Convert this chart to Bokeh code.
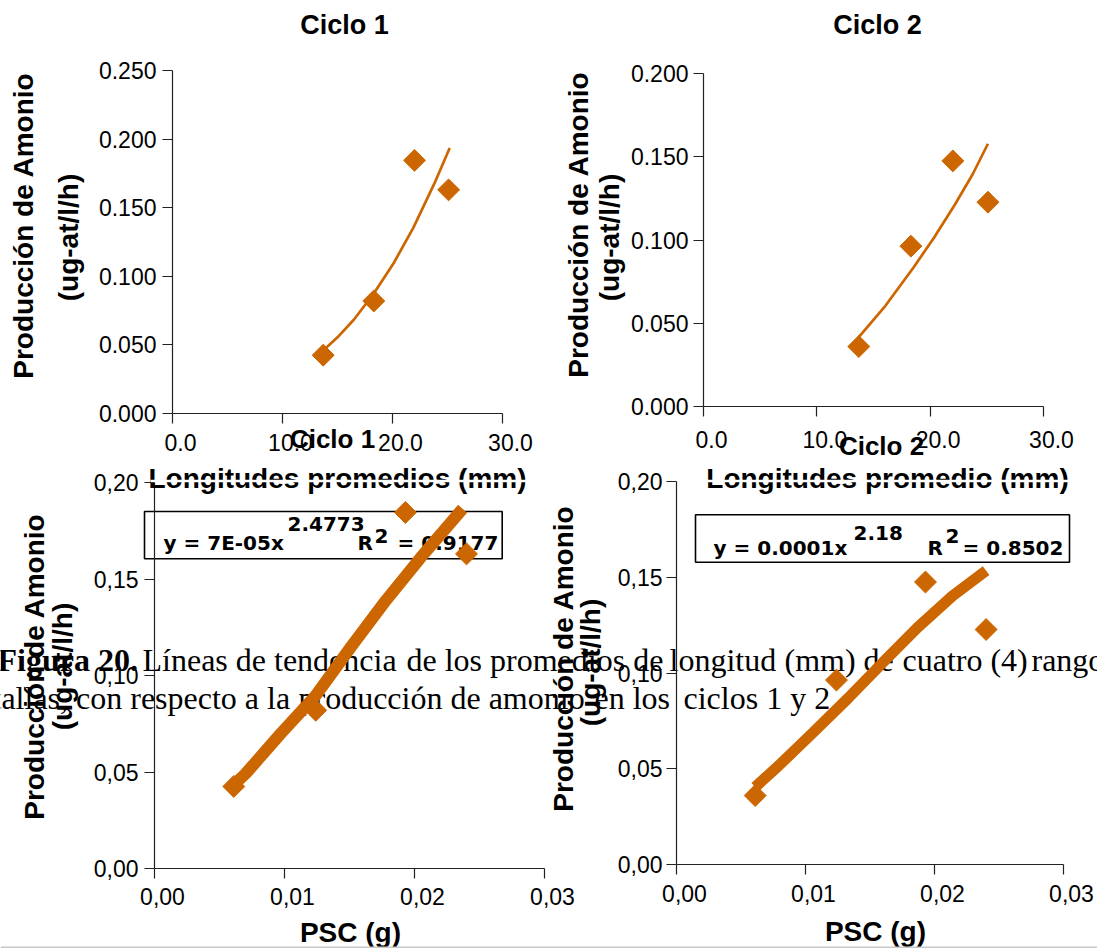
from math import pi
from bokeh.plotting import figure
from bokeh.models import Range1d, FixedTicker, Label, BoxAnnotation, LinearAxis
from bokeh.embed import file_html
from bokeh.resources import INLINE

# ---------------- data ----------------
longitudes = [13.7, 18.3, 22.0, 25.1]            # Longitudes promedio (mm)
psc = [0.0061, 0.0124, 0.0193, 0.0240]           # PSC (g)
amonio_ciclo1 = [0.0425, 0.082, 0.1845, 0.163]   # ug-at/l/h
amonio_ciclo2 = [0.036, 0.0963, 0.1475, 0.1227]

# trend lines, points
tend_long_c1_x = [13.7, 15.0, 16.5, 18.3, 20.1, 21.9, 23.8, 25.2]
tend_long_c1_y = [0.046, 0.0555, 0.0685, 0.0875, 0.1095, 0.1355, 0.1675, 0.1935]
tend_long_c2_x = [13.7, 16.05, 18.5, 20.35, 22.2, 23.75, 25.1]
tend_long_c2_y = [0.0416, 0.0605, 0.0832, 0.1015, 0.1215, 0.1395, 0.1578]
tend_psc_c1_x = [0.0059, 0.0070, 0.0097, 0.0124, 0.0151, 0.0178, 0.0205, 0.0237]
tend_psc_c1_y = [0.0421, 0.0491, 0.0698, 0.0896, 0.1147, 0.1389, 0.1613, 0.1864]
tend_psc_c2_x = [0.0061, 0.0079, 0.0106, 0.0133, 0.0160, 0.0187, 0.0214, 0.0240]
tend_psc_c2_y = [0.0404, 0.0515, 0.0690, 0.0868, 0.1055, 0.1238, 0.1403, 0.1535]

long_ticks = [0, 10, 20, 30]
long_tick_labels = ["0.0", "10.0", "20.0", "30.0"]
amon_ticks_c1 = [0, 0.05, 0.1, 0.15, 0.2, 0.25]
amon_tick_labels_c1 = ["0.000", "0.050", "0.100", "0.150", "0.200", "0.250"]
amon_ticks_c2 = [0, 0.05, 0.1, 0.15, 0.2]
amon_tick_labels_c2 = ["0.000", "0.050", "0.100", "0.150", "0.200"]
psc_ticks = [0, 0.01, 0.02, 0.03]
psc_tick_labels = ["0,00", "0,01", "0,02", "0,03"]
amon_ticks_psc = [0, 0.05, 0.1, 0.15, 0.2]
amon_tick_labels_psc = ["0,00", "0,05", "0,10", "0,15", "0,20"]

titles = ["Ciclo 1", "Ciclo 2", "Ciclo 1", "Ciclo 2"]
y_label_1 = "Producción de Amonio"
y_label_2 = "(ug-at/l/h)"
x_label_tl = "Longitudes promedios (mm)"
x_label_tr = "Longitudes promedio (mm)"
x_label_psc = "PSC (g)"
eq_c1 = ["y = 7E-05x", "2.4773", "R", "2", "= 0.9177"]
eq_c2 = ["y = 0.0001x", "2.18", "R", "2", "= 0.8502"]
caption_1 = ["Figura 20.", "Líneas de tendencia", "de los promedios de",
             "longitud", "(mm) de", "cuatro (4)", "rangos de"]
caption_2 = ["tallas, con respecto a la", "producción de amonio", "en los",
             "ciclos 1 y 2"]

# ---------------- styling ----------------
W, H = 1097, 948
ORANGE = "#CC6600"
SANS = "Liberation Sans"
SERIF = "Liberation Serif"
EQF = "DejaVu Sans"
K = 0.36          # baseline compensation (fraction of font size)
XLAB_SHIFT = 8    # x tick labels sit a little right of their ticks

# one page-sized figure; its default ranges are page pixels (y measured upward)
p = figure(width=W, height=H, output_backend="svg", toolbar_location=None,
           x_range=Range1d(0, W), y_range=Range1d(0, H),
           x_axis_location=None, y_axis_location=None, min_border=0)
p.title.visible = False
p.background_fill_color = "white"
p.border_fill_color = "white"
p.outline_line_color = None
p.xgrid.visible = False
p.ygrid.visible = False

extra_x, extra_y = {}, {}


def style_axis(ax, ticks, labels, so, show_rule=True):
    ax.ticker = FixedTicker(ticks=ticks)
    ax.major_label_overrides = dict(zip(ticks, labels))
    ax.axis_line_color = "#222222" if show_rule else None
    ax.axis_line_width = 1.2
    ax.major_tick_line_color = "#222222" if show_rule else None
    ax.major_tick_line_width = 1.2
    ax.major_tick_out = 10
    ax.major_tick_in = 0
    ax.minor_tick_line_color = None
    ax.major_label_text_font = SANS
    ax.major_label_text_font_size = "23px"
    ax.major_label_text_color = "black"
    ax.major_label_standoff = so


def chart(name, L, R, T, B, xr, yr, xt, xl, yt, yl, xso, yso):
    """A sub-chart: data ranges xr/yr shown in the page box L..R, T..B."""
    x0, x1 = xr
    y0, y1 = yr
    kx = (x1 - x0) / (R - L)
    ky = (y1 - y0) / (B - T)
    extra_x[name] = Range1d(x0 - L * kx, x0 + (W - L) * kx)
    extra_x[name + "_lab"] = Range1d(x0 - (L + XLAB_SHIFT) * kx,
                                     x0 + (W - L - XLAB_SHIFT) * kx)
    extra_y[name] = Range1d(y0 + (B - H) * ky, y0 + B * ky)
    # x axis: rule + ticks, and its labels on a copy shifted slightly right
    xa = LinearAxis(x_range_name=name, y_range_name=name, fixed_location=y0,
                    bounds=(x0, x1))
    style_axis(xa, xt, [""] * len(xt), xso)
    xl_ax = LinearAxis(x_range_name=name + "_lab", y_range_name=name,
                       fixed_location=y0, bounds=(x0, x1))
    style_axis(xl_ax, xt, xl, xso, show_rule=False)
    ya = LinearAxis(x_range_name=name, y_range_name=name, fixed_location=x0,
                    bounds=(y0, y1))
    style_axis(ya, yt, yl, yso)
    p.add_layout(xa, "below")
    p.add_layout(xl_ax, "below")
    p.add_layout(ya, "left")


def text(X, Y, s, size, font=SANS, bold=False, angle=0.0, align="left",
         level="annotation"):
    """(X, Y): baseline point of the text in page pixels."""
    if angle == 0.0:
        x, y = X, H - (Y - K * size)
    else:
        x, y = X - K * size, H - Y
    p.add_layout(Label(x=x, y=y, text=s, text_font=font,
                       text_font_size=f"{size}px",
                       text_font_style="bold" if bold else "normal",
                       angle=angle, text_align=align,
                       text_baseline="alphabetic", text_color="black",
                       level=level))


def box(X0, X1, Y0, Y1, line="black", fill=None, level="underlay"):
    p.add_layout(BoxAnnotation(left=X0, right=X1, top=H - Y0, bottom=H - Y1,
                               fill_color=fill, fill_alpha=1.0,
                               line_color=line, line_alpha=1.0, line_width=1.6,
                               level=level))


def ylabels(b1, c1, b2, c2):
    text(b1, c1, y_label_1, 28, bold=True, angle=pi / 2, align="center")
    text(b2, c2, y_label_2, 28, bold=True, angle=pi / 2, align="center")


def markers(name, xs, ys):
    p.scatter(xs, ys, marker="square", size=15.5, angle=pi / 4,
              fill_color=ORANGE, line_color=ORANGE,
              x_range_name=name, y_range_name=name)


# ---------------- figure caption (underneath everything) ----------------
CAP = 32
cap_y1, cap_y2 = 671.5, 709
for s, X, bold in zip(caption_1, [-3, 142, 406, 669, 784, 902, 1031],
                      [True] + [False] * 6):
    text(X, cap_y1, s, CAP, font=SERIF, bold=bold, level="underlay")
for s, X in zip(caption_2, [-8, 298, 594, 683]):
    text(X, cap_y2, s, CAP, font=SERIF, level="underlay")

# ---------------- top left: Ciclo 1 vs longitud ----------------
chart("tl", 172, 502, 70, 413, (0, 30), (0, 0.25), long_ticks, long_tick_labels,
      amon_ticks_c1, amon_tick_labels_c1, 10, 6)
markers("tl", longitudes, amonio_ciclo1)
p.line(tend_long_c1_x, tend_long_c1_y, line_color=ORANGE, line_width=2.7,
       x_range_name="tl", y_range_name="tl")
text(344, 34, titles[0], 27, bold=True, align="center")
ylabels(33, 225, 78, 237)
text(337, 488, x_label_tl, 28, bold=True, align="center")

# ---------------- top right: Ciclo 2 vs longitud ----------------
chart("tr", 703, 1043, 73, 406, (0, 30), (0, 0.2), long_ticks, long_tick_labels,
      amon_ticks_c2, amon_tick_labels_c2, 14, 5)
markers("tr", longitudes, amonio_ciclo2)
p.line(tend_long_c2_x, tend_long_c2_y, line_color=ORANGE, line_width=2.7,
       x_range_name="tr", y_range_name="tr")
text(877, 34, titles[1], 27, bold=True, align="center")
ylabels(588, 224, 619, 237)
text(887, 488, x_label_tr, 28, bold=True, align="center")

# ---------------- bottom left: Ciclo 1 vs PSC ----------------
chart("bl", 154, 544, 482, 868, (0, 0.03), (0, 0.2), psc_ticks, psc_tick_labels,
      amon_ticks_psc, amon_tick_labels_psc, 9, 6)
box(144, 501.7, 511, 558.3)
text(163, 550, eq_c1[0], 20, font=EQF, bold=True, level="underlay")
text(287, 531, eq_c1[1], 20, font=EQF, bold=True, level="underlay")
text(357, 550, eq_c1[2], 20, font=EQF, bold=True, level="underlay")
text(374, 543, eq_c1[3], 20, font=EQF, bold=True, level="underlay")
text(397, 550, eq_c1[4], 20, font=EQF, bold=True, level="underlay")
markers("bl", psc, amonio_ciclo1)
p.line(tend_psc_c1_x, tend_psc_c1_y, line_color=ORANGE, line_width=12,
       x_range_name="bl", y_range_name="bl")
text(332, 448, titles[2], 26, bold=True, align="center")
ylabels(44, 666, 72, 666)
text(350, 942, x_label_psc, 28, bold=True, align="center")

# ---------------- bottom right: Ciclo 2 vs PSC ----------------
chart("br", 676, 1063, 481, 864, (0, 0.03), (0, 0.2), psc_ticks, psc_tick_labels,
      amon_ticks_psc, amon_tick_labels_psc, 10, 4)
box(695, 1069, 514.3, 561.7)
text(713, 555, eq_c2[0], 20, font=EQF, bold=True, level="underlay")
text(853, 540, eq_c2[1], 20, font=EQF, bold=True, level="underlay")
text(927, 555, eq_c2[2], 20, font=EQF, bold=True, level="underlay")
text(945, 543, eq_c2[3], 20, font=EQF, bold=True, level="underlay")
text(962, 555, eq_c2[4], 20, font=EQF, bold=True, level="underlay")
markers("br", psc, amonio_ciclo2)
p.line(tend_psc_c2_x, tend_psc_c2_y, line_color=ORANGE, line_width=11,
       x_range_name="br", y_range_name="br")
text(881, 455, titles[3], 26, bold=True, align="center")
ylabels(573, 658, 600, 662)
text(875, 941, x_label_psc, 28, bold=True, align="center")

# thin white stripes through the upper x-axis titles, and the page edge line
box(150, 528, 479.3, 481.8, line=None, fill="white", level="annotation")
box(700, 1070, 479.3, 481.8, line=None, fill="white", level="annotation")
box(0, W, 946, 948, line=None, fill="#c8c8c8", level="annotation")

p.extra_x_ranges = extra_x
p.extra_y_ranges = extra_y

open("out.html", "w").write(file_html(p, INLINE))
